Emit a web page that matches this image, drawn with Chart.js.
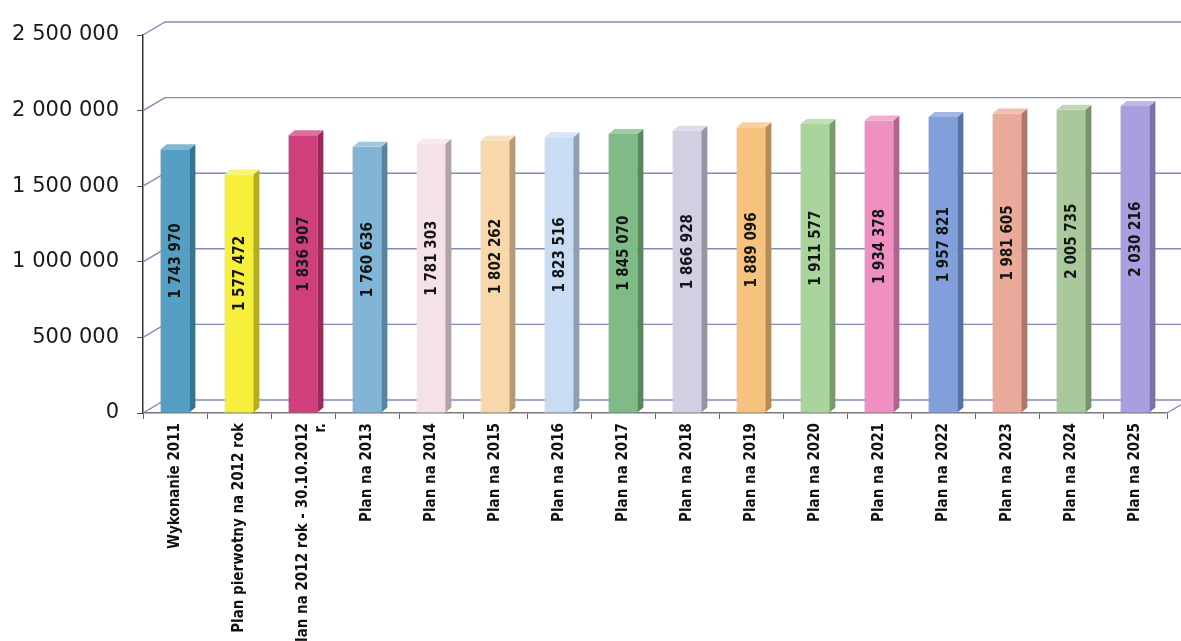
<!DOCTYPE html>
<html>
<head>
<meta charset="utf-8">
<script src="https://cdn.jsdelivr.net/npm/chart.js@4.4.1/dist/chart.umd.min.js"></script>
<style>
  html, body { margin: 0; padding: 0; background: #ffffff; }
  #wrap { width: 1181px; height: 641px; position: relative; }
</style>
</head>
<body>
<div id="wrap"><canvas id="c" width="1181" height="641"></canvas></div>
<script>
const categories = [
  'Wykonanie 2011',
  'Plan pierwotny na 2012 rok',
  ['Plan na 2012 rok - 30.10.2012', 'r.'],
  'Plan na 2013', 'Plan na 2014', 'Plan na 2015', 'Plan na 2016', 'Plan na 2017',
  'Plan na 2018', 'Plan na 2019', 'Plan na 2020', 'Plan na 2021', 'Plan na 2022',
  'Plan na 2023', 'Plan na 2024', 'Plan na 2025'
];
const values = [1743970, 1577472, 1836907, 1760636, 1781303, 1802262, 1823516, 1845070,
                1866928, 1889096, 1911577, 1934378, 1957821, 1981605, 2005735, 2030216];
const barColors = ['#559fc4', '#f6f03c', '#cf3f7c', '#80b5d8', '#f4e2e6', '#f8d7aa',
                   '#c8dcf4', '#7fbb86', '#d0d0e2', '#f7c27e', '#a9d49c', '#ef8fc2',
                   '#809fdb', '#e9aa9a', '#a9c99c', '#a99fe0'];
const yTicks = [0, 500000, 1000000, 1500000, 2000000, 2500000];

function fmt(v) { return String(v).replace(/\B(?=(\d{3})+(?!\d))/g, ' '); }
function shade(hex, f) {
  const n = parseInt(hex.slice(1), 16);
  let r = (n >> 16) & 255, g = (n >> 8) & 255, b = n & 255;
  if (f < 0) { r *= (1 + f); g *= (1 + f); b *= (1 + f); }
  else { r += (255 - r) * f; g += (255 - g) * f; b += (255 - b) * f; }
  return 'rgb(' + Math.round(r) + ',' + Math.round(g) + ',' + Math.round(b) + ')';
}

const WDX = 22, WDY = -13;   // back wall offset
const BDX = 6, BDY = -5;     // bar depth

const wallPlugin = {
  id: 'wall',
  beforeDatasetsDraw(chart) {
    const ctx = chart.ctx, a = chart.chartArea, y = chart.scales.y;
    ctx.save();
    ctx.strokeStyle = '#8189b5';
    ctx.lineWidth = 1.4;
    yTicks.forEach(v => {
      const py = y.getPixelForValue(v);
      ctx.beginPath();
      ctx.moveTo(a.left, py);
      ctx.lineTo(a.left + WDX, py + WDY);
      ctx.lineTo(a.right + WDX + 20, py + WDY);
      ctx.stroke();
    });
    const p0 = y.getPixelForValue(0);
    ctx.beginPath();
    ctx.moveTo(a.right, p0);
    ctx.lineTo(a.right + WDX, p0 + WDY);
    ctx.stroke();
    ctx.restore();
  },
  afterDatasetsDraw(chart) {
    const ctx = chart.ctx;
    const meta = chart.getDatasetMeta(0);
    ctx.save();
    meta.data.forEach((bar, i) => {
      const p = bar.getProps(['x', 'y', 'base', 'width'], true);
      const l = p.x - p.width / 2, r = p.x + p.width / 2;
      const col = barColors[i];
      ctx.fillStyle = shade(col, -0.28);
      ctx.beginPath();
      ctx.moveTo(r, p.y); ctx.lineTo(r + BDX, p.y + BDY);
      ctx.lineTo(r + BDX, p.base + BDY); ctx.lineTo(r, p.base);
      ctx.closePath(); ctx.fill();
      ctx.fillStyle = shade(col, 0.25);
      ctx.beginPath();
      ctx.moveTo(l, p.y); ctx.lineTo(l + BDX, p.y + BDY);
      ctx.lineTo(r + BDX, p.y + BDY); ctx.lineTo(r, p.y);
      ctx.closePath(); ctx.fill();
      // value label
      ctx.save();
      ctx.translate(p.x + 1, (p.y + p.base) / 2 - 20);
      ctx.rotate(-Math.PI / 2);
      ctx.fillStyle = '#151515';
      ctx.font = 'bold 15px "Liberation Sans Narrow", "DejaVu Sans Condensed", sans-serif';
      ctx.textAlign = 'center';
      ctx.textBaseline = 'middle';
      ctx.fillText(fmt(values[i]), 0, 0);
      ctx.restore();
    });
    ctx.restore();
  }
};

new Chart(document.getElementById('c'), {
  type: 'bar',
  data: {
    labels: categories,
    datasets: [{
      data: values,
      backgroundColor: barColors,
      borderWidth: 0,
      barPercentage: 0.45,
      categoryPercentage: 1.0
    }]
  },
  options: {
    responsive: false,
    animation: false,
    layout: { padding: { top: 35, right: 14, left: 0, bottom: 0 } },
    plugins: { legend: { display: false }, tooltip: { enabled: false } },
    scales: {
      x: {
        afterFit(s) { s.height = 641 - 413; },
        grid: { display: true, drawOnChartArea: false, drawTicks: true, tickLength: 6, color: '#666', offset: true },
        border: { display: true, color: '#777', width: 1.5 },
        ticks: {
          autoSkip: false, minRotation: 90, maxRotation: 90, padding: 4,
          color: '#111',
          font: { family: '"Liberation Sans Narrow", "DejaVu Sans Condensed", sans-serif', size: 15, weight: 'bold' }
        }
      },
      y: {
        min: 0, max: 2500000,
        afterFit(s) { s.width = 143; },
        afterBuildTicks(s) { s.ticks = yTicks.map(v => ({ value: v })); },
        grid: { display: true, drawOnChartArea: false, drawTicks: true, tickLength: 6, color: '#555' },
        border: { display: true, color: '#333', width: 1.5 },
        ticks: {
          padding: 18, color: '#1a1a1a',
          font: { family: '"DejaVu Sans", sans-serif', size: 21 },
          callback: v => fmt(v)
        }
      }
    }
  },
  plugins: [wallPlugin]
});
</script>
</body>
</html>
